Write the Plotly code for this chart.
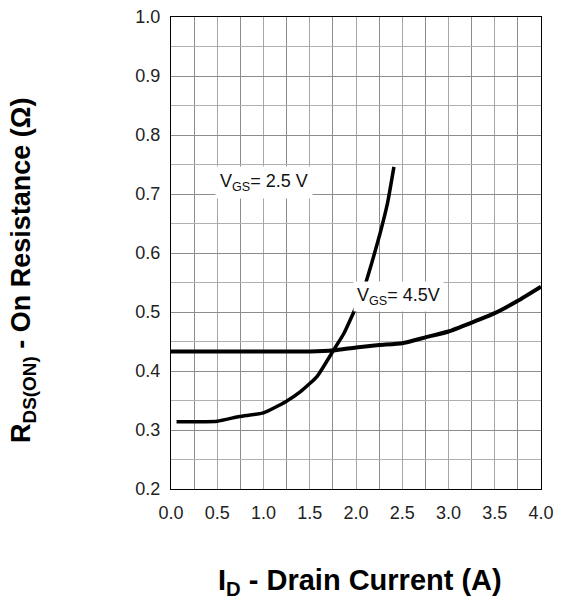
import plotly.graph_objects as go

# V_GS = 4.5 V curve
id_45 = [0.0, 0.5, 1.0, 1.5, 1.76, 2.0, 2.25, 2.5, 2.75, 3.0, 3.25, 3.5, 3.75, 4.0]
r_45 = [0.433, 0.433, 0.433, 0.433, 0.435, 0.440, 0.444, 0.447, 0.457, 0.467, 0.482, 0.498, 0.519, 0.543]

# V_GS = 2.5 V curve
id_25 = [0.06, 0.5, 0.74, 1.0, 1.24, 1.4, 1.58, 1.76, 1.87, 1.97, 2.08, 2.17, 2.26, 2.34, 2.41]
r_25 = [0.314, 0.315, 0.323, 0.329, 0.348, 0.365, 0.391, 0.436, 0.464, 0.498, 0.537, 0.583, 0.633, 0.684, 0.746]

x_ticks = [0.0, 0.5, 1.0, 1.5, 2.0, 2.5, 3.0, 3.5, 4.0]
x_ticktext = ["0.0", "0.5", "1.0", "1.5", "2.0", "2.5", "3.0", "3.5", "4.0"]
y_ticks = [0.2, 0.3, 0.4, 0.5, 0.6, 0.7, 0.8, 0.9, 1.0]
y_ticktext = ["0.2", "0.3", "0.4", "0.5", "0.6", "0.7", "0.8", "0.9", "1.0"]

FONT = "Liberation Sans, Arial, sans-serif"

fig = go.Figure()
fig.add_trace(go.Scatter(x=id_45, y=r_45, mode="lines",
                         line=dict(color="black", width=4, shape="spline", smoothing=0.5),
                         hoverinfo="skip", showlegend=False))
fig.add_trace(go.Scatter(x=id_25, y=r_25, mode="lines",
                         line=dict(color="black", width=3.5, shape="spline", smoothing=0.5),
                         hoverinfo="skip", showlegend=False))

# page body adds an 8px offset, margins compensate for it
fig.update_layout(
    width=562, height=603,
    margin=dict(l=163, r=29, t=9, b=122),
    paper_bgcolor="white", plot_bgcolor="white",
    font=dict(family=FONT, color="#222"),
    showlegend=False,
)

fig.update_xaxes(
    range=[0, 4], tickvals=x_ticks, ticktext=x_ticktext,
    tickfont=dict(size=18, family=FONT, color="#222"),
    showline=True, linecolor="black", linewidth=1.2, mirror=True,
    showgrid=True, gridcolor="#a6a6a6", gridwidth=1.3,
    minor=dict(dtick=0.25, showgrid=True, gridcolor="#8c8c8c", gridwidth=1),
    ticks="", zeroline=False, ticklabelstandoff=7, ticklabeloverflow="allow",
    automargin=False,
)
fig.update_yaxes(
    range=[0.2, 1.0], tickvals=y_ticks, ticktext=y_ticktext,
    tickfont=dict(size=18, family=FONT, color="#222"),
    showline=True, linecolor="black", linewidth=1.2, mirror=True,
    showgrid=True, gridcolor="#8c8c8c", gridwidth=1,
    minor=dict(dtick=0.05, showgrid=True, gridcolor="#b0b0b0", gridwidth=1.3),
    ticks="", zeroline=False, ticklabelstandoff=6, ticklabeloverflow="allow",
    automargin=False,
)

# curve labels
fig.add_annotation(x=1.0, y=0.72, xref="x", yref="y",
                   text="V<sub>GS</sub>= 2.5 V", showarrow=False,
                   xanchor="center", yanchor="middle",
                   font=dict(size=18, family=FONT, color="#111"),
                   bgcolor="white", borderpad=4)
fig.add_annotation(x=2.46, y=0.527, xref="x", yref="y",
                   text="V<sub>GS</sub>= 4.5V", showarrow=False,
                   xanchor="center", yanchor="middle",
                   font=dict(size=18, family=FONT, color="#111"),
                   bgcolor="white", borderpad=3)

# axis titles
fig.add_annotation(x=-0.40, y=0.462, xref="paper", yref="paper",
                   xanchor="center", yanchor="middle",
                   text="<b>R<sub>DS(ON)</sub> - On Resistance (Ω)</b>",
                   textangle=-90, showarrow=False,
                   font=dict(size=27, family=FONT, color="black"))
fig.add_annotation(x=0.512, y=-0.198, xref="paper", yref="paper",
                   xanchor="center", yanchor="middle",
                   text="<b>I<sub>D</sub> - Drain Current (A)</b>",
                   showarrow=False,
                   font=dict(size=29, family=FONT, color="black"))

fig.write_html("out.html")
